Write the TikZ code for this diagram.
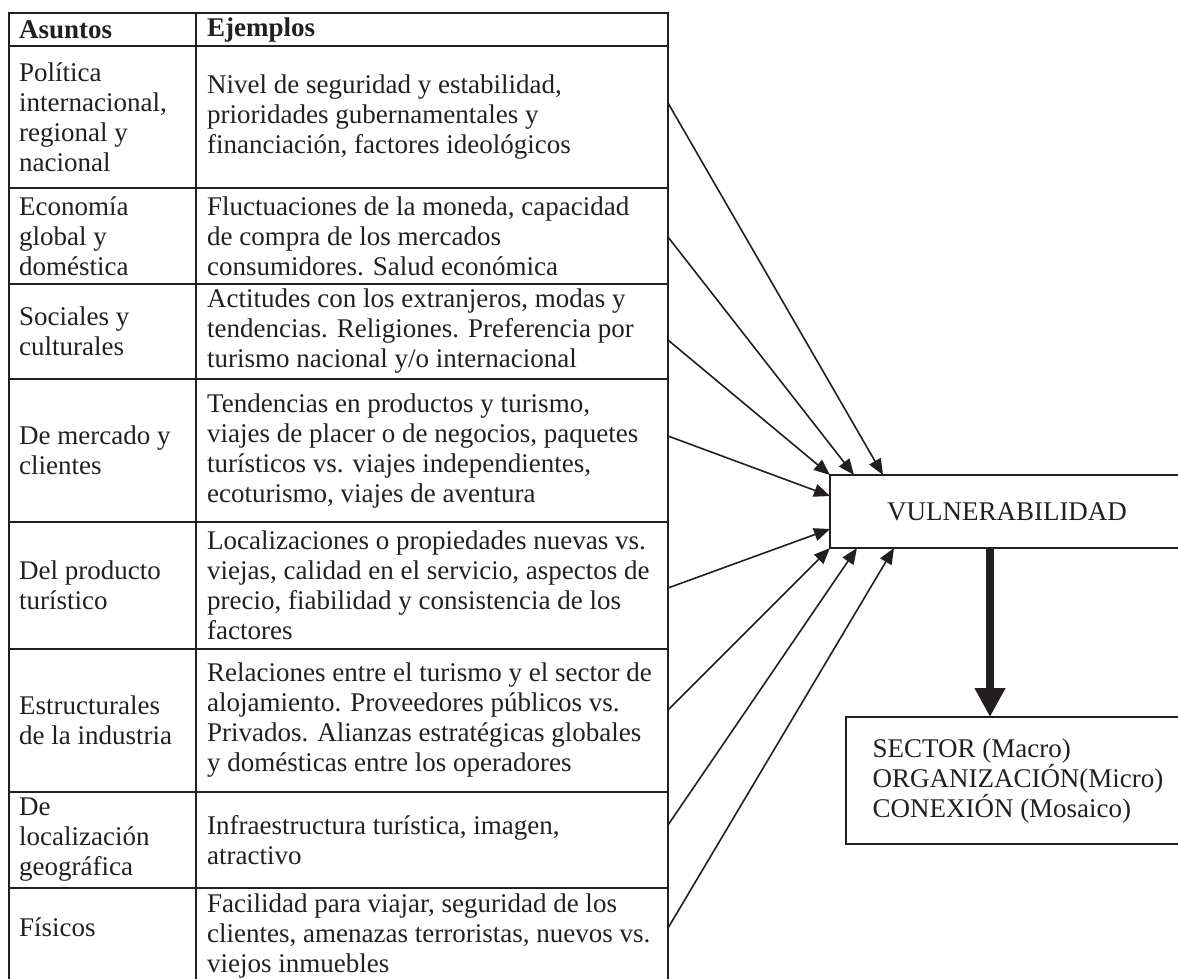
\documentclass[tikz,border=0pt]{standalone}
\usepackage{fontspec}
\setmainfont{Liberation Serif}
\usepackage{xcolor}
\usepackage{tikz}
\usetikzlibrary{arrows.meta}

\definecolor{ink}{RGB}{35,31,32}

\begin{document}
\begin{tikzpicture}[x=1pt,y=-1pt,
    every node/.style={font=\fontsize{27pt}{30pt}\selectfont,text=ink},
    cell/.style={anchor=west,align=left,inner sep=0pt},
    box/.style={draw=ink,line width=2pt,outer sep=0pt,inner sep=0pt},
    grid/.style={draw=ink,line width=2.5pt},
    feed/.style={->,draw=ink,line width=1.6pt},
    bigfeed/.style={-{Triangle[length=29pt,width=29pt]},draw=ink,line width=8pt}]
\useasboundingbox (0,0) rectangle (1178,978);
\begin{scope}[>={Triangle[length=16pt,width=13pt]}]

    % table
    \draw[grid] (9,13) rectangle (668,985);
    \draw[grid] (196,13) -- (196,985);
    \foreach \y in {46,188,284,379,522,649,792,888}
        \draw[grid] (9,\y) -- (668,\y);

    \node[cell,font=\fontsize{27pt}{30pt}\selectfont\bfseries] (asuntos)  at (19,30)  {Asuntos};
    \node[cell,font=\fontsize{27pt}{30pt}\selectfont\bfseries] (ejemplos) at (207,30) {Ejemplos};

    \node[cell] (a1) at (19,117)   {Política\\internacional,\\regional y\\nacional};
    \node[cell] (a2) at (19,236)   {Economía\\global y\\doméstica};
    \node[cell] (a3) at (19,331.5) {Sociales y\\culturales};
    \node[cell] (a4) at (19,450.5) {De mercado y\\clientes};
    \node[cell] (a5) at (19,585.5) {Del producto\\turístico};
    \node[cell] (a6) at (19,720.5) {Estructurales\\de la industria};
    \node[cell] (a7) at (19,840)   {De\\localización\\geográfica};
    \node[cell] (a8) at (19,927)   {Físicos};

    \node[cell] (e1) at (207,117)   {Nivel de seguridad y estabilidad,\\prioridades gubernamentales y\\financiación, factores ideológicos};
    \node[cell] (e2) at (207,236)   {Fluctuaciones de la moneda, capacidad\\de compra de los mercados\\consumidores. Salud económica};
    \node[cell] (e3) at (207,331.5) {Actitudes con los extranjeros, modas y\\tendencias. Religiones. Preferencia por\\turismo nacional y/o internacional};
    \node[cell] (e4) at (207,450.5) {Tendencias en productos y turismo,\\viajes de placer o de negocios, paquetes\\turísticos vs. viajes independientes,\\ecoturismo, viajes de aventura};
    \node[cell] (e5) at (207,585.5) {Localizaciones o propiedades nuevas vs.\\viejas, calidad en el servicio, aspectos de\\precio, fiabilidad y consistencia de los\\factores};
    \node[cell] (e6) at (207,720.5) {Relaciones entre el turismo y el sector de\\alojamiento. Proveedores públicos vs.\\Privados. Alianzas estratégicas globales\\y domésticas entre los operadores};
    \node[cell] (e7) at (207,840)   {Infraestructura turística, imagen,\\atractivo};
    \node[cell] (e8) at (207,936)   {Facilidad para viajar, seguridad de los\\clientes, amenazas terroristas, nuevos vs.\\viejos inmuebles};

    % right side
    \node[box,minimum width=354pt,minimum height=73pt] (vuln) at (1007,511.5) {VULNERABILIDAD};
    \node[box,minimum width=344pt,minimum height=127pt,align=left] (sector) at (1018,780.5)
        {SECTOR (Macro)\\ORGANIZACIÓN(Micro)\\CONEXIÓN (Mosaico)};

    \coordinate (p1) at (668,103);
    \coordinate (p2) at (668,237);
    \coordinate (p3) at (668,340);
    \coordinate (p4) at (668,436);
    \coordinate (p5) at (668,588);
    \coordinate (p6) at (668,710);
    \coordinate (p7) at (668,825);
    \coordinate (p8) at (668,928);

    \draw[feed] (p1) -- ([xshift=53pt]vuln.north west);
    \draw[feed] (p2) -- ([xshift=24pt]vuln.north west);
    \draw[feed] (p3) -- (vuln.north west);
    \draw[feed] (p4) -- ([yshift=-21pt]vuln.north west);
    \draw[feed] (p5) -- ([yshift=19pt]vuln.south west);
    \draw[feed] (p6) -- (vuln.south west);
    \draw[feed] (p7) -- ([xshift=27pt]vuln.south west);
    \draw[feed] (p8) -- ([xshift=64pt]vuln.south west);

    \draw[bigfeed] ([xshift=-17pt]vuln.south) -- ([xshift=-28pt]sector.north);

\end{scope}
\end{tikzpicture}
\end{document}
